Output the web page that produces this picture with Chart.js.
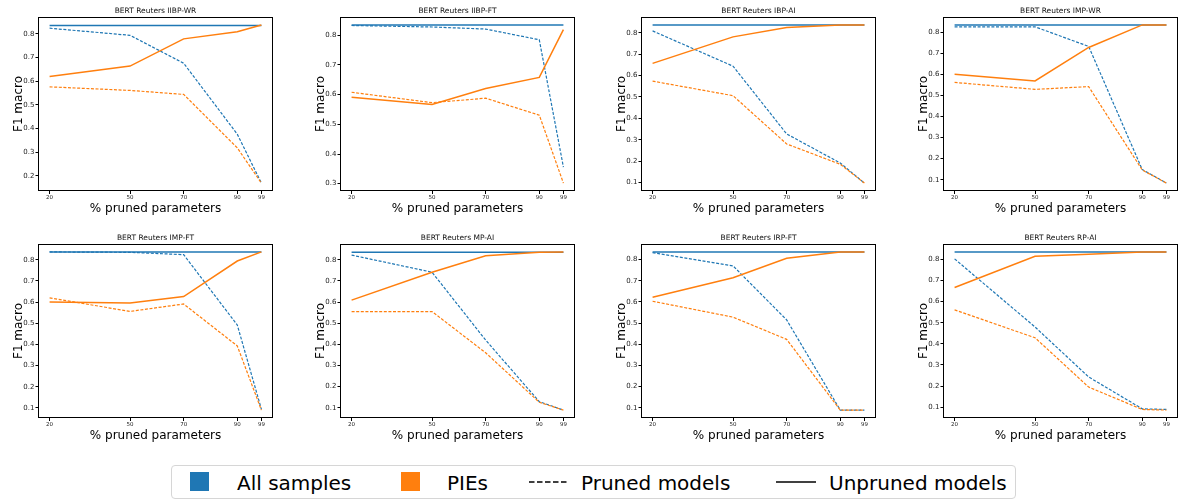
<!DOCTYPE html>
<html>
<head>
<meta charset="utf-8">
<script src="https://cdn.jsdelivr.net/npm/chart.js@4.4.1/dist/chart.umd.min.js"></script>
<style>
  body { margin: 0; background: #fff; width: 1180px; height: 501px; position: relative; overflow: hidden; font-family: "DejaVu Sans", sans-serif; }
  canvas { position: absolute; }
  #legend { position: absolute; left: 171px; top: 465px; width: 845px; height: 34px; border: 1px solid #d6d6d6; border-radius: 4px; box-sizing: border-box; }
  .lg { position: absolute; font-size: 20px; line-height: 20px; top: 7px; color: #000; white-space: nowrap; }
  .sw { position: absolute; top: 6px; width: 19px; height: 19px; }
  .ln { position: absolute; top: 6px; }
</style>
</head>
<body>
<div id="legend">
  <div class="sw" style="left:18px;background:#1f77b4"></div>
  <div class="lg" style="left:65px">All samples</div>
  <div class="sw" style="left:229px;background:#ff7f0e"></div>
  <div class="lg" style="left:275px">PIEs</div>
  <svg class="ln" style="left:357px" width="40" height="20"><line x1="0" y1="10" x2="40" y2="10" stroke="#000" stroke-width="1.5" stroke-dasharray="5.5,2.5"/></svg>
  <div class="lg" style="left:409px">Pruned models</div>
  <svg class="ln" style="left:604px" width="40" height="20"><line x1="0" y1="10" x2="40" y2="10" stroke="#000" stroke-width="1.5"/></svg>
  <div class="lg" style="left:657px">Unpruned models</div>
</div>
<script>
// x positions: % of parameters pruned
const pruneLevels = [20, 50, 70, 90, 99];

const panelTitles = [
  'BERT Reuters IIBP-WR', 'BERT Reuters IIBP-FT', 'BERT Reuters IBP-AI', 'BERT Reuters IMP-WR',
  'BERT Reuters IMP-FT', 'BERT Reuters MP-AI', 'BERT Reuters IRP-FT', 'BERT Reuters RP-AI'
];

// blue solid: all samples, unpruned model
const allUnpruned = [
  [0.836, 0.836, 0.836, 0.836, 0.836],
  [0.835, 0.835, 0.835, 0.835, 0.835],
  [0.836, 0.836, 0.836, 0.836, 0.836],
  [0.835, 0.835, 0.835, 0.835, 0.835],
  [0.836, 0.836, 0.836, 0.836, 0.836],
  [0.835, 0.835, 0.835, 0.835, 0.835],
  [0.835, 0.835, 0.835, 0.835, 0.835],
  [0.836, 0.836, 0.836, 0.836, 0.836]
];

// blue dashed: all samples, pruned model
const allPruned = [
  [0.824, 0.794, 0.676, 0.376, 0.169],
  [0.833, 0.828, 0.821, 0.785, 0.356],
  [0.809, 0.644, 0.327, 0.191, 0.097],
  [0.826, 0.826, 0.733, 0.148, 0.084],
  [0.837, 0.835, 0.824, 0.492, 0.094],
  [0.822, 0.741, 0.420, 0.129, 0.089],
  [0.833, 0.770, 0.515, 0.089, 0.089],
  [0.803, 0.480, 0.243, 0.092, 0.089]
];

// orange solid: PIEs, unpruned model
const piesUnpruned = [
  [0.620, 0.664, 0.779, 0.809, 0.838],
  [0.591, 0.567, 0.621, 0.658, 0.819],
  [0.657, 0.781, 0.825, 0.837, 0.837],
  [0.601, 0.569, 0.728, 0.835, 0.835],
  [0.601, 0.596, 0.626, 0.794, 0.837],
  [0.609, 0.741, 0.819, 0.835, 0.837],
  [0.622, 0.714, 0.806, 0.836, 0.836],
  [0.667, 0.815, 0.825, 0.836, 0.836]
];

// orange dashed: PIEs, pruned model
const piesPruned = [
  [0.576, 0.561, 0.544, 0.318, 0.169],
  [0.608, 0.573, 0.588, 0.531, 0.302],
  [0.574, 0.506, 0.280, 0.185, 0.097],
  [0.562, 0.529, 0.542, 0.146, 0.084],
  [0.620, 0.556, 0.591, 0.393, 0.090],
  [0.555, 0.555, 0.360, 0.126, 0.089],
  [0.603, 0.528, 0.423, 0.089, 0.089],
  [0.561, 0.429, 0.195, 0.089, 0.086]
];

const BLUE = '#1f77b4';
const ORANGE = '#ff7f0e';
const FONT = '"DejaVu Sans", sans-serif';

// panel frame positions on the page
const axesLeft = [39, 341, 642, 944];
const rowTop = [17, 244];
const AXW = 233, AXH = 174;
const YAXIS_W = 27, XAXIS_H = 25, TITLE_H = 17;

Chart.defaults.font.family = FONT;
Chart.defaults.color = '#222';

// matplotlib-style closed frame plus a title centred over the plot area
const framePlugin = {
  id: 'frame',
  afterDraw(chart, args, opts) {
    const a = chart.chartArea;
    const ctx = chart.ctx;
    ctx.save();
    ctx.strokeStyle = '#000';
    ctx.lineWidth = 1;
    ctx.strokeRect(Math.round(a.left) - 0.5, Math.round(a.top) + 0.5, Math.round(a.right - a.left) + 1, Math.round(a.bottom - a.top) - 1);
    ctx.fillStyle = '#111';
    ctx.font = '7.5px ' + FONT;
    ctx.textAlign = 'center';
    ctx.textBaseline = 'middle';
    ctx.fillText(opts.text, (a.left + a.right) / 2, a.top - 6);
    ctx.restore();
  }
};

function toPoints(vals) {
  return pruneLevels.map((x, i) => ({x: x, y: vals[i]}));
}

function drawPanel(i) {
  const col = i % 4, row = Math.floor(i / 4);
  const canvas = document.createElement('canvas');
  const w = YAXIS_W + AXW + 1, h = TITLE_H + AXH + XAXIS_H;
  canvas.width = w;
  canvas.height = h;
  canvas.style.left = (axesLeft[col] - YAXIS_W) + 'px';
  canvas.style.top = (rowTop[row] - TITLE_H) + 'px';
  canvas.style.width = w + 'px';
  canvas.style.height = h + 'px';
  document.body.appendChild(canvas);

  // autoscale like matplotlib: data range plus 5% margins
  const all = [].concat(allUnpruned[i], allPruned[i], piesUnpruned[i], piesPruned[i]);
  const lo = Math.min(...all), hi = Math.max(...all);
  const pad = (hi - lo) * 0.05;
  const xPad = (pruneLevels[4] - pruneLevels[0]) * 0.05;

  new Chart(canvas, {
    type: 'line',
    data: {
      datasets: [
        {data: toPoints(piesUnpruned[i]), borderColor: ORANGE, borderWidth: 1.5},
        {data: toPoints(piesPruned[i]), borderColor: ORANGE, borderWidth: 1.2, borderDash: [3, 1.6]},
        {data: toPoints(allPruned[i]), borderColor: BLUE, borderWidth: 1.2, borderDash: [3, 1.6]},
        {data: toPoints(allUnpruned[i]), borderColor: BLUE, borderWidth: 1.5}
      ]
    },
    options: {
      responsive: false,
      animation: false,
      devicePixelRatio: 1,
      elements: {point: {radius: 0}, line: {tension: 0, fill: false}},
      layout: {padding: {left: 0, right: 1, top: TITLE_H, bottom: 0}},
      plugins: {
        legend: {display: false},
        tooltip: {enabled: false},
        frame: {text: panelTitles[i]}
      },
      scales: {
        x: {
          type: 'linear',
          min: pruneLevels[0] - xPad,
          max: pruneLevels[4] + xPad,
          afterBuildTicks: s => { s.ticks = pruneLevels.map(v => ({value: v})); },
          afterFit: s => { s.height = XAXIS_H; },
          ticks: {font: {size: 5.5}, padding: 0, maxRotation: 0, autoSkip: false, callback: v => String(v)},
          grid: {display: true, drawOnChartArea: false, drawTicks: true, tickLength: 3, color: '#000'},
          border: {display: false},
          title: {display: true, text: '% pruned parameters', color: '#000', font: {size: 12}, padding: 0}
        },
        y: {
          min: lo - pad,
          max: hi + pad,
          ticks: {font: {size: 7}, padding: 1, callback: v => v.toFixed(1)},
          afterBuildTicks: s => {
            const t = [];
            for (let k = Math.ceil(s.min * 10); k <= Math.floor(s.max * 10); k++) t.push({value: k / 10});
            s.ticks = t;
          },
          afterFit: s => { s.width = YAXIS_W; },
          grid: {display: true, drawOnChartArea: false, drawTicks: true, tickLength: 3.5, color: '#000'},
          border: {display: false},
          title: {display: true, text: 'F1 macro', color: '#000', font: {size: 12}, padding: 0}
        }
      }
    },
    plugins: [framePlugin]
  });
}

for (let i = 0; i < 8; i++) drawPanel(i);
</script>
</body>
</html>
